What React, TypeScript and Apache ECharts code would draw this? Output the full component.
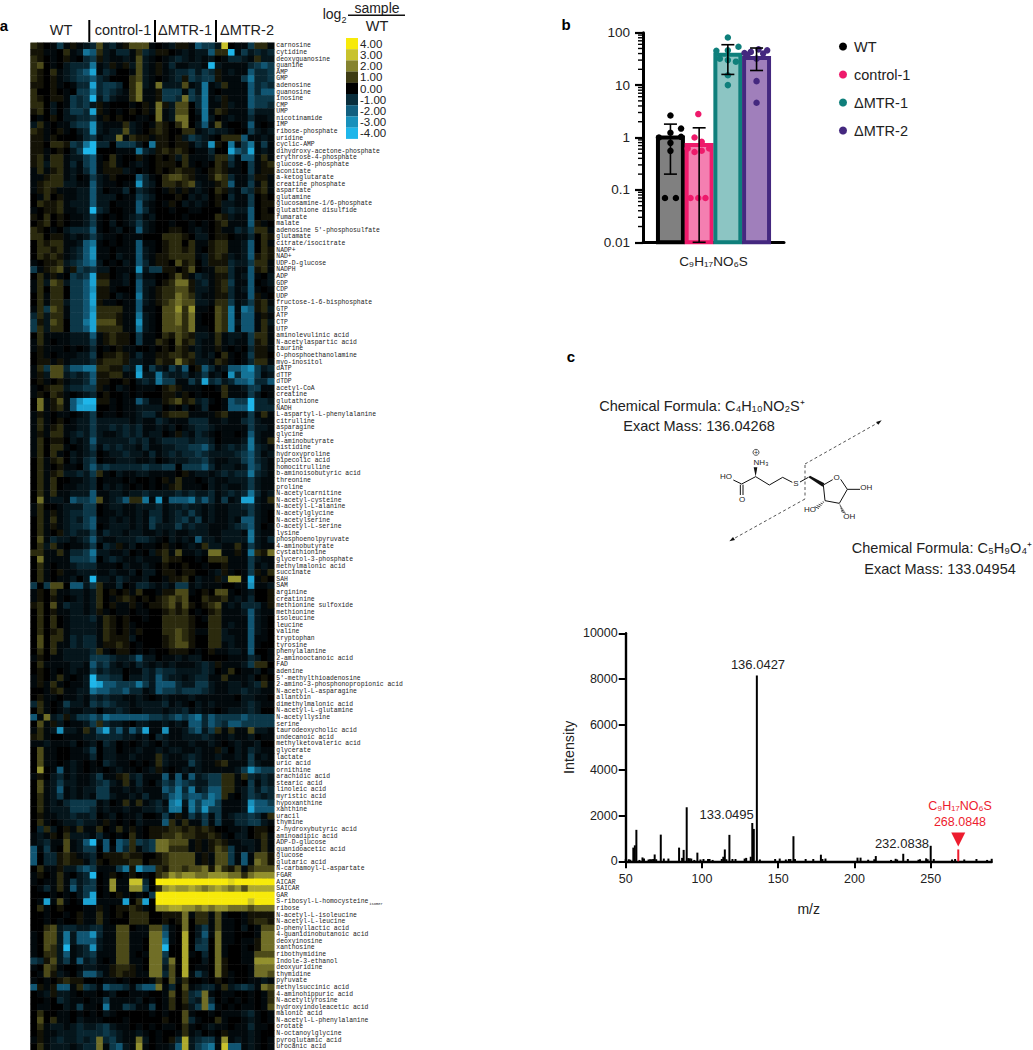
import React, { useEffect, useRef } from "react";
import * as echarts from "echarts";

// ---------- panel a ----------
const metabolites = ["carnosine","cytidine","deoxyguanosine","guanine","AMP","GMP","adenosine","guanosine","inosine","CMP","UMP","nicotinamide","IMP","ribose-phosphate","uridine","cyclic-AMP","dihydroxy-acetone-phosphate","erythrose-4-phosphate","glucose-6-phosphate","aconitate","a-ketoglutarate","creatine phosphate","aspartate","glutamine","glucosamine-1/6-phosphate","glutathione disulfide","fumarate","malate","adenosine 5'-phosphosulfate","glutamate","citrate/isocitrate","NADP+","NAD+","UDP-D-glucose","NADPH","ADP","GDP","CDP","UDP","fructose-1-6-bisphosphate","GTP","ATP","CTP","UTP","aminolevulinic acid","N-acetylaspartic acid","taurine","O-phosphoethanolamine","myo-inositol","dATP","dTTP","dTDP","acetyl-CoA","creatine","glutathione","NADH","L-aspartyl-L-phenylalanine","citrulline","asparagine","glycine","4-aminobutyrate","histidine","hydroxyproline","pipecolic acid","homocitrulline","b-aminoisobutyric acid","threonine","proline","N-acetylcarnitine","N-acetyl-cysteine","N-acetyl-L-alanine","N-acetylglycine","N-acetylserine","O-acetyl-L-serine","lysine","phosphoenolpyruvate","4-aminobutyrate","cystathionine","glycerol-3-phosphate","methylmalonic acid","succinate","SAH","SAM","arginine","creatinine","methionine sulfoxide","methionine","isoleucine","leucine","valine","tryptophan","tyrosine","phenylalanine","2-aminooctanoic acid","FAD","adenine","5'-methylthioadenosine","2-amino-3-phosphonopropionic acid","N-acetyl-L-asparagine","allantoin","dimethylmalonic acid","N-acetyl-L-glutamine","N-acetyllysine","serine","taurodeoxycholic acid","undecanoic acid","methylketovaleric acid","glycerate","lactate","uric acid","ornithine","arachidic acid","stearic acid","linoleic acid","myristic acid","hypoxanthine","xanthine","uracil","thymine","2-hydroxybutyric acid","aminoadipic acid","ADP-D-glucose","guanidoacetic acid","glucose","glutaric acid","N-carbamoyl-L-aspartate","FGAR","AICAR","SAICAR","GAR","S-ribosyl-L-homocysteine","ribose","N-acetyl-L-isoleucine","N-acetyl-L-leucine","D-phenyllactic acid","4-guanidinobutanoic acid","deoxyinosine","xanthosine","ribothymidine","Indole-3-ethanol","deoxyuridine","thymidine","pyruvate","methylsuccinic acid","4-aminohippuric acid","N-acetyltyrosine","hydroxyindoleacetic acid","malonic acid","N-acetyl-L-phenylalanine","orotate","N-octanoylglycine","pyroglutamic acid","urocanic acid"];

// one code per sample, split WT | control-1 | dMTR-1 | dMTR-2
const heatRows = [
"qp.adapab crbcaprrra .abppaedd bv.aadqqa","ppaa.qabf eqbaccaqcb pp.ababbe qqiadbcbc","qp.a.pa.c dpbaabarba .abcbabab .accbaqbb","qr.a.bccc fabpapbrba pacaabbai baaaacded",
"qp.qabcde hacb..arba pabccdbdc pabaaeccd","qp.pabcdd ecb...qrba .abcpdcdd paaadfccd","pp.pa.acc hcddc.qsba sbbbrabfa bqaaaecdc","q..p.a.dd fcdcbaqsaa pdddadbfa .aaaaecee",
"qp.ppadcd ibdbaaqsaa pddcsdcfa bpaaaeddd","qq.b.adcd bpa...a.pa spbrr.cfa apbaaeddc","pq.b.bddc hpa.a.p.pa sabrr.bfa qpaaadbbb",".a.p.bbcc dap.p..aa. sabss.afb .abaacaab",
"bqa.aacdd gbaaaqba.a qp.qs.bea ra..aea.a","qpa.pa.bc gbabbrba.p qp..qqabc bba..dbab","ppap...ac dabbsaqppa pp.pbdcba .qqqeaaba","pp.qqpdcf icc.dddb.f pp.ppacbg p.fadfada",
"ppa.p.bdi i...aaafcb pqpqp.aac ..hedhaba","pqaqqabbd ea.qa..pa. p.pbqaaab qqdaeeaqa","pqbqqacad eapqa.aba. ppp.qa.a. qpca.dapq","aqapqabac eapppba.a. p.pqppa.p qpaa.dapp",
"aapqqab.a dbap...eca .qrrqpaap rqcaacppa","apqqqbbaa ebaa.aagcb .qqpqrbaa pqeaadaqa","apqpaaabb eb.aac.cba .apapaba. qpbadcpqa",".aq.paabb ebbb.aadcb ...p.bab. p.caad.p.",
".qppqabbb ebb.aaaeba .ap.baba. pbbaad.pp","a.ppqaabb icb..aaeca ..a..aa.. .bcbbe.p.","p.q.p.aab da.a.abcab ....a.... qpbaae.pp",".pq.p.aab da.b.abdba ..a..a.a. pqaaaepa.",
"qp.a.bccc ea.ab.aeba ..pp.aba. paacbdqqa","qq.ppabab dbaa.aaa.. .qqqp.bb. pp.aac.qp",".qpqqaabe fa.a.aaeaa .pqq.qaap qqaabe.qa",".qqpqabce gaa.aaaeba .pqqpqa.p qqaabe.qp",
".qpqpabce gaa.baaeba ppqqqqabp qpbabepqp","a.ppqbcde fb.a.baeca pp.rpq.bp ppcbbdqqa","dapqrapdc dbb.aaagbd dpp.pr.aa qqcaaepqa",".qapa.dcd hpp.ab.daa ..prpacba ppcabea.b",
"aqbrqbdde hqqaab.ebb .pqsspbca pqdaae.ab","aq.qq.dde gppa...eba pqqrrpbba pqcabea.a",".qaqq.dde hpp.ba.fba pqqsrqbaa ppcaaepa.",".qaqqbdde hpaa.aaeba pqrsrrbba qqdabdpqa",
"aqdrqadde gqqqqaaeaa .rrtqtaa. rqfafepqb","cqbqqadde hqqqpaafba .rrsqsa.. rqfaeeapa","dpbrq.ddf hrrrpaagba .rrsqsa.. rqfbeeaqb","dqbqq.dde hqqqqaafba .rrrqsaa. rqfaeeaqa",
".qaaaabbb eapqpp.daa .qprqpbba qabbadqqa","aqa.aabbb dapqpp.daa qp.rpqbaa qabaadpqa","apaaa.a.a c.a.paa..a .p.qpabaa pa.a.cppa",".pa.aaabb d.ppqpacaa ppqqpqbab .qa.adpp.",
".ppapabbb cpqqqpbbaa qppsqpbba qpa.acqqa","aqdrrceef fqqppcbgad badbe.pec abeefgdbc","apbrrbcbc eppqqaahbb fcbbcabda b.gcffdab",".pa.pabbc epp..p.bcb fddaadbhc dbceefcce",
"a.pqqbccd dpa.ba.aaa .pqpaaa.. aqaabddaa","ap.qpa.ab c.p..a.a.. .ppap.a.. .qaaadb.a",".sapraegi ippa.aaeca apqrpqbca .aeddiccb",".sapqaehh h..a.aabbb b.a.b.ac. .aeeeiccc",
"apa.aa.ab d.aa.aabcc apqqqaaaa pqaaadaqa","aqa.p.abb dbbbbbabaa cbaaaccca abaacdbaa","aqapqaabb dbbcbcbcaa bab.abccb aaaaadbba","apaqqabcb dbaabcbcab b.apbacba .aa.aebaa",
"aq.pp.bab ebbbbbcbca bccccbccb .aaabfbaq","aq.qqa.ab dacbcbbaca abbccddec abcbcfcba","aq.qa.bab c.abbcbbac abcbccdcb bbbcdecab",".qapq.bac d.aabbbaab .abbbccdb aabbdecba",
".qa.paa.c ecdcccccdc cdd.dddec abbabedba",".qapqbbcb dqa.baabba aaa.pabba bcbccfcba",".qaq..aab c.aaa.a..a .paqaa.ab aabbbdbaa",".qaq.aabb c.baba.a.a .apqaaa.b abaabdbaa",
".qaqaabbb eaabbabbcb bbbcbcbbc abcbcfcab",".sabbaedd erabceqqfa gaeeefcec adabhhbaq","aq..abbbd d.abbaabbb cabbcbbab aabbcdbaa","aqapabccd d.aabaabac cabcbdbab aabbbdba.",
".qaqabcbd eaabababad cabcdbdab aabaeeba.",".qapabccd e.abbbabad bbbdbcbba aabcdeb.a",".qa.pbcbb dacbbabbaa babaabbba abbbafbaa",".racbbabc ebaabbbccb a.babaebb abbbbfbac",
".qbqa.aab d.cbpab.aa .pa.abaqb baaqadbaa","qqaaqaccd fbbaab.a.b pqaraabas saapafqps",".saaaaddd e.bcbaabaa aqpp..a.q qqaaadbaa",".qa.aabcc caaa.baaba .p..p..a. .paaadaba",
".qa.paabb baabaab.bb .pp.pp..a bpa.adpaq",".qa.aab.b ibbacbaab. .appq.baa pbttahap.","d.drr.eeb dqaac.accb abaddabaa a..aagaab","ap.qaabba bq.p.paq.. apprra.p. rra.ab..p",
"ap.pa.aba bq.apqp.p. pqrqr..qp pqabac..p","pq.racbba bq.paapa.p pqrprp.pq rabacccap",".q.paabba bpa.aa.aa. .pqpq.a.p qaaabebaa",".q.q.abbb caqp.p..a. .qqqqp.aq qaaaaeba.",
".q.q.abbb baqp.pa... .qqqqp..q qabaaeba.",".q.pqabbb baqp.pap.. .qqrqpaaq qbaaaeba.",".r.qqacbc caqpppb... .pqrqp..q qbbaaeaa.",".r.qaacbc cappqp.a.. .pqrrp..q qabaaea..",
".q.qabbbb cqa.pp.a.a ..ppp.a.p aabbae..a","ap.aabbbb dddcbbcebb .aababb.. ..aaacb.a",".qaaaabba ecdbabacba babaaabcb paaabdqq.",".p.a.abaa dbcbb.aacb dccbbbbcb .aq.aab.a",
"ap.aqa.ab iddcc.bbcb ecbbabcca aqaaab.p.","apaqa.aab iheedddfdb eeecbbddb aabbabcqa","..apqaabb feeddeccab eddcdddcb aabbcbbaa",".paa.aaba cbcbbaaba. abaaabaaa aaa.bbaa.",
"cqa.adbba dcdcbbabbb bcaba.bab aaaabcbaa",".qa.abaab b.bbcbaabb babbcabaa .abbbcb..","easbcpbdd edfeeeeeed dcdedefce ddddedddd",".rapb.aab dqcbba.bba ababaeece dceeddddd",
"aqabgbbaq behcebecha agaabdebd qaqaarbba","pqa..aaab bccccbbab. cbaabbbcb aabaab.aa","aabaaab.a b.cb.a.aba .baaabaab a.abaab..",".raa..aab d.bb.aabaa babbaabaa pb.bacbaa",
".raa..aaa c.bbaabaaa qbaabcbaa baabadaba",".raa.aba. a.cbaa.a.a qbaaadbaa pqaaadbaa",".t.aeaba. aa.abaa.ab pa.ababaa aaabdgedd","ap.bcabaa bdaapqbcaa aeaeaebcd dqqaqcbcb",
".rabdbbaa bcdbaqaca. bdcedcbbd dqqa.dacb",".rabeabab bddaababaa aedfcfbce eqqabdbdc",".qabdabab addbaabaca acefdeedf eqa.bdcbc",".qabacddd dab.aqaqab cafgbfdff daaabgeed",
".qabbbddd cabaabaabb cbffafdgd daaabheee",".paabbcbb c.ab.aab.. adapadbda dabccdcaq",".qa.abbcb bapa.a.baa aeqaqaada daaccddba",".cqb.paqa aq.aqapa.p ppqqpqpqp ..aab.pp.",
"abap.qbbb aca.a.qa.p pqqrqqppq pa.bb.pqa","abcaarabe iae.edqdcd ssrrrapap qpaabbaqa","eada.rabd d.eaecqacd ssqqqapap rqdaabaqa","e.ccpqpab c.pppqpp.. pqrrrrapa rrdaearrp",
"e.ccpqppa cp.pppqq.p pqrrrrapa rrdaeasrp",".qaapbbde daaadfpgee qprrqrrsp sqpraqrrr","ap.aqa.bc i.ap.ap.a. qrtsttsst ttssqsttt","a.aaqadbc d.ataavvc. xxxxxxxxx xxwxxxxxx",
".acaqaebd d.ataattd. qtuttutst utstruuuu","...a.a.bd h.a.pa.a.d xxxxxxxxx xxxxxxxxx",".ahara.ah haaaah.qh. xxxxxxxxx xxxxxvxxx",".qa.p...a apa.ppqpa. ttuuttsts ttsssrsss",
"..a..a.pa aqa.p.qqq. .pppsaqqa ra..apppp","..a.a..pa aqa...qqq. .p.ps.qqa raa.apqqp","..qrbccbb ccaarr.aar rda.s.bda raa.b.arr","a.rrbfbee gcaarraaas sea.u.bea saa...ass",
"a.rrbfbee ebaarraa.s sfa.u.cd. saa.aapss","a.rqbiabc gbaarraa.s si..u.dd. sa..a.pss","a.qqbeabc daaarra.as sd..ua.c. sa..aarrr","dcprbdaeb ca.arraa.s scs.u..b. sp..aattt",
"a.rqa..ab baapqqpa.s sbr.u.aa. sp...asss",".arpba.be ecapqppaas scr.uadb. spa..assr","a.a.pqpp. ..aa.a...a q.raq..a. p.a..aaba","epapeeaqd caeddcadee sac.rabcc aqbcdcasr",
".abpbba.a a.ab..aaa. .ar.qcdsa .aa..a.aq","..a.cbaa. aadaaaab.a .aq.qcbsc .a.a.a.aq",".aa..bada a.faadcaad .aq.pbdse a.a.aa.ar",".q..aa.a. a.ba.....a .a..ra..a .aaabca.a",
".r.qaa.ba aa...a.... .p..rca.. qa..aba.a",".qabbabcb bcdbaa.a.a .aa.qa.ab aa.aacaa.",".paabbbcc ccdcbaaba. a..aqab.a .paaaba..","apabcbbcb cscdbaasb. a.pcubcdd atababa.a",
".qabbbabc csadebata. aabeubdef aveeaba.a",
];
const levelCodes = {".":0,a:-0.2,b:-0.45,c:-0.8,d:-1.2,e:-1.8,f:-2.4,g:-3,h:-3.5,i:-4,p:0.3,q:0.7,r:1.2,s:1.7,t:2.2,u:2.6,v:3,w:3.5,x:4};
const sampleGroups = [["WT",9],["control-1",10],["ΔMTR-1",9],["ΔMTR-2",9]];
const legendLabels = ["4.00","3.00","2.00","1.00","0.00","-1.00","-2.00","-3.00","-4.00"];
const legendColors = ["#f7ea0a","#c8c22c","#85832f","#3e3c14","#000000","#0a2e3c","#125f7f","#1890bb","#1eb6ea"];

// ---------- panel b ----------
const formulaCategory = ["C₉H₁₇NO₆S"];
const barNames = ["WT","control-1","ΔMTR-1","ΔMTR-2"];
const barMeans = [1.0,0.72,38,33];
const barBase = 0.01;
const barFills = ["#808080","#f47fb1","#8cc5c3","#a07fbb"];
const barEdges = ["#000000","#ee1a6b","#0f7f7b","#44287f"];
const groupSlots = [-1.5,-0.5,0.5,1.5];
const errLow = [0.2,0.01,16,19];
const errHigh = [1.8,1.53,59,51];
const dotValues = [
  [2.63,1.48,1.0,1.23,1.03,0.79,0.557,0.07,0.07],
  [2.8,1.0,0.83,0.62,0.53,0.56,0.62,0.07,0.07,0.07],
  [81,45,54,46,32,30,28,15.4,10],
  [48,46,41,43,40,32,38,11.9,4.6],
];
const dotJitter = [
  [0,0.37,-0.4,0,0.37,0,0,-0.19,0.19],
  [-0.03,-0.16,0.09,-0.4,-0.16,0.09,0.35,-0.3,-0.03,0.22],
  [0,-0.4,0.37,0,-0.28,0,0.28,0,0],
  [0.07,0.37,-0.42,-0.2,0.23,0,-0.32,0,0],
];
const minorTickValues = [0.02,0.03,0.04,0.05,0.06,0.07,0.08,0.09,0.2,0.3,0.4,0.5,0.6,0.7,0.8,0.9,2,3,4,5,6,7,8,9,20,30,40,50,60,70,80,90];

// ---------- panel c ----------
const spectrumPeaks = [[50,90],[52,90],[53,70],[55,600],[56,700],[57,1380],[59,60],[61,170],[62,120],[65,80],[66,90],[67,90],[68,100],[69,300],[70,90],[73,1170],[75,120],[78,120],[85,600],[87,150],[88,500],[90,2370],[91,140],[92,130],[93,120],[95,60],[97,380],[99,80],[101,100],[104,100],[105,100],[107,60],[113,100],[114,200],[115,520],[116,90],[118,1160],[120,100],[122,100],[128,120],[129,150],[132,200],[133,1680],[134,1420],[136,8150],[138,80],[148,100],[151,120],[155,80],[157,100],[158,100],[160,1100],[161,100],[168,100],[173,100],[178,290],[179,100],[181,120],[202,160],[204,160],[209,70],[213,90],[214,230],[224,60],[227,110],[228,80],[232,330],[235,100],[242,70],[243,90],[247,130],[248,90],[250,680],[252,100],[264,80],[266,100],[272,80],[280,100],[287,60],[290,110]];
const targetPeak = [268.08,520];
const targetMarker = [268.08,960];
const mzTicks = [50,100,150,200,250];

const sans = "'Liberation Sans', Arial, sans-serif";
const mono = "'Liberation Mono', 'Courier New', monospace";
const ink = "#222222";
const red = "#ed1c2e";

const T = (text: string, x: number, y: number, o: any = {}) => ({ type: "text", silent: true, style: { text, x, y, fontFamily: sans, fontSize: 14.5, fill: ink, align: "center", verticalAlign: "middle", ...o } });
const L = (x1: number, y1: number, x2: number, y2: number, w = 1, c = "#111", dash?: number[]) => ({ type: "line", silent: true, shape: { x1, y1, x2, y2 }, style: { stroke: c, lineWidth: w, lineDash: dash } });
const mx = (v: number) => 560 + v / 3;
const my = (v: number) => 340 + v / 3;
const B = (a: number, b: number, c: number, d: number, w = 1, col = "#111", dash?: number[]) => L(mx(a), my(b), mx(c), my(d), w, col, dash);
const P = (pts: number[][], fill = "#111") => ({ type: "polygon", silent: true, shape: { points: pts.map(([x, y]) => [mx(x), my(y)]) }, style: { fill } });

const hashed = (x1: number, y1: number, x2: number, y2: number) => {
  const out: any[] = [];
  for (let i = 1; i <= 5; i++) {
    const t = i / 5.5, x = x1 + (x2 - x1) * t, y = y1 + (y2 - y1) * t, h = 1 + t * 6;
    out.push(B(x - h, y - h * 0.4, x + h, y + h * 0.4, 0.8));
  }
  return out;
};

const moleculeGraphics = () => [
  B(520,420,545,432), B(545,432,587,410), B(541,434,541,465), B(549,434,549,465),
  B(587,410,628,435), B(628,435,668,412), B(668,412,697,427), B(720,426,745,412),
  P([[587,410],[581,382],[592,382]]), P([[745,412],[750,407],[793,430],[788,440]]),
  B(790,435,818,419), B(842,418,862,448), B(862,448,838,490), B(838,490,795,482), B(795,482,790,435),
  B(862,448,900,448), ...hashed(838,490,852,520), ...hashed(795,482,768,505),
  B(735,375,735,475,1,"#555",[3,2.5]), B(735,372,958,246,1,"#555",[3,2.5]), B(735,477,518,598,1,"#555",[3,2.5]),
  P([[965,241],[948,246],[955,254]]), P([[508,604],[525,600],[519,591]]),
  T("HO",mx(498),my(408),{fontSize:8}), T("O",mx(546),my(478),{fontSize:8}), T("NH₃",mx(603),my(366),{fontSize:8}),
  T("S",mx(708),my(431),{fontSize:8}), T("O",mx(830),my(411),{fontSize:8}), T("OH",mx(919),my(443),{fontSize:8}),
  T("OH",mx(868),my(530),{fontSize:8}), T("HO",mx(750),my(509),{fontSize:8}),
  { type: "circle", silent: true, shape: { cx: mx(588), cy: my(337), r: 3 }, style: { fill: "none", stroke: "#111", lineWidth: 0.7 } },
  T("+",mx(588),my(337),{fontSize:7}),
];

const barItem = (_: any, api: any) => {
  const x = api.value(0);
  const top = api.coord([x, api.value(1)]);
  const bot = api.coord([x, api.value(2)]);
  const half = api.size([1, 1])[0] * 0.435;
  return { type: "rect", shape: { x: top[0] - half, y: top[1], width: half * 2, height: bot[1] - top[1] },
    style: { fill: api.visual("color"), stroke: api.visual("borderColor") || "#000", lineWidth: 4 } };
};
const errorItem = (_: any, api: any) => {
  const x = api.value(0);
  const top = api.coord([x, api.value(2)]);
  const bot = api.coord([x, api.value(1)]);
  const style = { stroke: "#000", lineWidth: 1.6 };
  return { type: "group", children: [
    { type: "line", shape: { x1: top[0], y1: top[1], x2: bot[0], y2: bot[1] }, style },
    { type: "line", shape: { x1: top[0] - 6.5, y1: top[1], x2: top[0] + 6.5, y2: top[1] }, style },
    { type: "line", shape: { x1: bot[0] - 6.5, y1: bot[1], x2: bot[0] + 6.5, y2: bot[1] }, style },
  ] };
};
const swarmMin = -2.456;
const minorTickItem = (_: any, api: any) => {
  const p = api.coord([swarmMin, api.value(0)]);
  return { type: "line", shape: { x1: p[0], y1: p[1], x2: p[0] - 5, y2: p[1] }, style: { stroke: "#000", lineWidth: 1.4 } };
};
const plain = (v: number) => String(v);

export default function App() {
  const ref = useRef<HTMLDivElement>(null);
  useEffect(() => {
    document.body.style.margin = "0";
    const chart = echarts.init(ref.current!, undefined, { renderer: "svg" });
    const sampleNames: string[] = [];
    sampleGroups.forEach(([g, n]: any) => { for (let i = 1; i <= n; i++) sampleNames.push(`${g} ${i}`); });
    const heatData: number[][] = [];
    heatRows.forEach((row, r) => {
      const codes = row.replace(/ /g, "").padEnd(sampleNames.length, ".").slice(0, sampleNames.length);
      for (let c = 0; c < codes.length; c++) heatData.push([c, r, (levelCodes as any)[codes[c]] ?? 0]);
    });

    const graphic: any[] = [
      T("a",4,25,{fontWeight:"bold",fontSize:15,fill:"#000"}),
      T("b",566,24,{fontWeight:"bold",fontSize:15,fill:"#000"}),
      T("c",571,356,{fontWeight:"bold",fontSize:15,fill:"#000"}),
      T("WT",61,30), T("control-1",123,30), T("ΔMTR-1",185,30), T("ΔMTR-2",247,30),
      L(89.3,20,89.3,42,2,"#000"), L(155,20,155,42,2,"#000"), L(216,20,216,42,2,"#000"),
      L(30.5,43,30.5,1050,1,"#aaaaaa"),
      T("log",332,14,{fontSize:14}), T("2",344,20,{fontSize:9}),
      T("sample",377,7.5,{fontSize:14}), L(348,15.3,405,15.3,1.5,"#111"), T("WT",377,26,{fontSize:14.5}),
      T("isomer",376,904,{fontSize:3.8,fontFamily:mono}),
      ...legendColors.map((c, i) => ({ type: "rect", silent: true, shape: { x: 346, y: 38 + 11.2 * i, width: 12, height: 11.3 }, style: { fill: c } })),
      ...legendLabels.map((t, i) => T(t, 360, 43.7 + 11.2 * i, { fontSize: 11.5, align: "left" })),
      T("Chemical Formula: C₄H₁₀NO₂S⁺",702,405.7), T("Exact Mass: 136.04268",699,426),
      T("Chemical Formula: C₅H₉O₄⁺",942,548), T("Exact Mass: 133.04954",940,568.7),
      ...moleculeGraphics(),
      T("136.0427",758,664.7,{fontSize:13}), T("133.0495",726.7,814,{fontSize:13}), T("232.0838",902,843,{fontSize:13}),
      T("C₉H₁₇NO₆S",960,805.7,{fontSize:12.5,fill:red}), T("268.0848",960,822,{fontSize:12.5,fill:red}),
    ];

    chart.setOption({
      animation: false,
      backgroundColor: "#ffffff",
      textStyle: { fontFamily: sans },
      grid: [
        { left: 30.7, top: 42.7, width: 243.6, height: 1008 },
        { left: 643, top: 32.7, width: 141, height: 209.6 },
        { left: 625.7, top: 633.3, width: 366, height: 228 },
      ],
      xAxis: [
        { type: "category", gridIndex: 0, data: sampleNames, show: false },
        { type: "category", gridIndex: 1, data: formulaCategory,
          axisLine: { onZero: false, lineStyle: { color: "#000", width: 3 } }, axisTick: { show: false },
          axisLabel: { color: ink, fontSize: 13.5, margin: 12, fontFamily: sans } },
        { type: "value", gridIndex: 1, min: swarmMin, max: 2.456, show: false },
        { type: "value", gridIndex: 2, min: 50, max: 290, splitLine: { show: false },
          name: "m/z", nameLocation: "middle", nameGap: 41, nameTextStyle: { color: ink, fontSize: 14, fontFamily: sans },
          axisLine: { onZero: false, lineStyle: { color: "#000", width: 2.4 } },
          axisTick: { length: 7, customValues: mzTicks, lineStyle: { color: "#000", width: 2 } },
          axisLabel: { color: ink, fontSize: 12.5, margin: 11, fontFamily: sans, customValues: mzTicks, formatter: plain } },
      ],
      yAxis: [
        { type: "category", gridIndex: 0, data: metabolites, inverse: true, position: "right",
          axisLine: { show: false }, axisTick: { show: false },
          axisLabel: { interval: 0, fontSize: 6.4, fontFamily: mono, color: "#222", margin: 2 } },
        { type: "log", gridIndex: 1, logBase: 10, min: 0.01, max: 100, splitLine: { show: false },
          axisLine: { show: true, onZero: false, lineStyle: { color: "#000", width: 3 } },
          axisTick: { show: true, length: 8, lineStyle: { color: "#000", width: 2.2 } },
          axisLabel: { color: ink, fontSize: 13.5, margin: 13, fontFamily: sans } },
        { type: "value", gridIndex: 2, min: 0, max: 10000, interval: 2000, splitLine: { show: false },
          name: "Intensity", nameLocation: "middle", nameGap: 50, nameTextStyle: { color: ink, fontSize: 14.3, fontFamily: sans },
          axisLine: { show: true, onZero: false, lineStyle: { color: "#000", width: 2.4 } },
          axisTick: { show: true, length: 7, lineStyle: { color: "#000", width: 2 } },
          axisLabel: { color: ink, fontSize: 12.5, margin: 8, fontFamily: sans, formatter: plain } },
      ],
      visualMap: { show: false, seriesIndex: 0, dimension: 2, min: -4, max: 4, inRange: { color: [...legendColors].reverse() } },
      legend: {
        left: 834, top: 34, orient: "vertical", itemWidth: 8, itemHeight: 8, itemGap: 13, selectedMode: false,
        textStyle: { fontSize: 14.5, color: ink, fontFamily: sans, padding: [0, 0, 0, 2] },
        data: barNames.map((name, i) => ({ name, icon: "circle", itemStyle: { color: barEdges[i], borderWidth: 0 } })),
      },
      series: [
        { type: "heatmap", xAxisIndex: 0, yAxisIndex: 0, data: heatData, progressive: 0, emphasis: { disabled: true }, itemStyle: { borderWidth: 0 } },
        ...barNames.map((name, i) => ({
          type: "custom", name, xAxisIndex: 2, yAxisIndex: 1, z: 2, renderItem: barItem, encode: { x: 0, y: [1, 2] },
          itemStyle: { color: barFills[i], borderColor: barEdges[i] },
          data: [[groupSlots[i], barMeans[i], barBase]],
        })),
        ...barNames.map((name, i) => ({
          type: "scatter", name: `${name} replicates`, xAxisIndex: 2, yAxisIndex: 1, symbolSize: 6.5, z: 3,
          itemStyle: { color: barEdges[i], opacity: 1 },
          data: dotValues[i].map((v, k) => [groupSlots[i] + dotJitter[i][k], v]),
        })),
        { type: "custom", name: "SD", xAxisIndex: 2, yAxisIndex: 1, z: 4, renderItem: errorItem, encode: { x: 0, y: [1, 2] },
          data: groupSlots.map((s, i) => [s, errLow[i], errHigh[i]]) },
        { type: "custom", name: "minor ticks", xAxisIndex: 2, yAxisIndex: 1, z: 4, clip: false, renderItem: minorTickItem, encode: { y: 0 },
          data: minorTickValues.map((v) => [v]) },
        { type: "bar", name: "spectrum", xAxisIndex: 3, yAxisIndex: 2, barWidth: 2, itemStyle: { color: "#000" },
          data: [...spectrumPeaks, { value: targetPeak, itemStyle: { color: red } }] },
        { type: "scatter", name: "precursor", xAxisIndex: 3, yAxisIndex: 2, symbol: "triangle", symbolRotate: 180, symbolSize: 14,
          itemStyle: { color: red, opacity: 1 }, data: [targetMarker] },
      ],
      graphic,
    } as any);
    return () => chart.dispose();
  }, []);
  return <div ref={ref} style={{ position: "absolute", left: 0, top: 0, width: 1033, height: 1050, overflow: "hidden" }} />;
}
